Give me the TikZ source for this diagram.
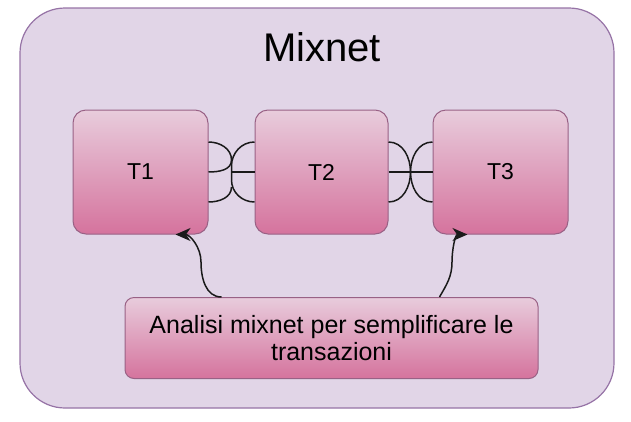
\documentclass[tikz,border=0pt]{standalone}
\usepackage{fontspec}
\setmainfont{Liberation Sans}
\usetikzlibrary{arrows.meta,calc}

\definecolor{frameFill}{HTML}{E1D5E7}
\definecolor{frameLine}{HTML}{9673A6}
\definecolor{boxTop}{HTML}{E8CCDC}
\definecolor{boxBottom}{HTML}{D5739D}
\definecolor{boxLine}{HTML}{996185}
\definecolor{wire}{HTML}{1A1A1A}

\tikzset{
  frame/.style={draw=frameLine, fill=frameFill, line width=1.2pt, rounded corners=45pt},
  txbox/.style={draw=boxLine, top color=boxTop, bottom color=boxBottom, line width=1pt,
    rounded corners=13pt, minimum width=135pt, minimum height=124pt, inner sep=0pt,
    font=\fontsize{23}{26}\selectfont},
  notebox/.style={draw=boxLine, top color=boxTop, bottom color=boxBottom, line width=1pt,
    rounded corners=9pt, minimum width=413pt, minimum height=81pt, inner sep=0pt,
    align=center, font=\fontsize{25}{27.5}\selectfont},
  link/.style={draw=wire, line width=1.5pt},
  pointer/.style={draw=wire, line width=1.5pt, -{Stealth[length=15pt,width=13pt,inset=4.5pt]}},
}

\begin{document}
\begin{tikzpicture}[x=1pt,y=-1pt]
\useasboundingbox (0,0) rectangle (631,421);

% outer container
\path[frame] (20,8) rectangle (614,408);
\node[font=\fontsize{40}{44}\selectfont] (title) at (322,47) {Mixnet};

% transaction boxes
\node[txbox] (T1) at (140.5,172) {T1};
\node[txbox, minimum width=133pt] (T2) at (321.5,172) {T2};
\node[txbox] (T3) at (500.5,172) {T3};

% analysis box
\node[notebox] (note) at (331.5,338) {Analisi mixnet per semplificare le\\transazioni};

% crossing links between T1 and T2
\coordinate (m1) at ($(T1.east)!0.5!(T2.west)$);
\draw[link] ([yshift=30pt]T1.east) to[out=0,in=90] ([yshift=12pt]m1) to[out=-90,in=0] (T1.east);
\draw[link] ([yshift=30pt]T2.west) to[out=180,in=90] ([yshift=6pt]m1) -- ([yshift=-8pt]m1)
  to[out=-90,in=180] ([yshift=-30pt]T2.west);
\draw[link] (T2.west) -- (m1);
\draw[link] ([yshift=-30pt]T1.east) to[out=0,in=-90] ([yshift=-15pt]m1);

% crossing links between T2 and T3
\coordinate (m2) at ($(T2.east)!0.5!(T3.west)$);
\draw[link] ([yshift=30pt]T2.east) to[out=0,in=90] (m2) to[out=-90,in=0] ([yshift=-30pt]T2.east);
\draw[link] ([yshift=30pt]T3.west) to[out=180,in=90] (m2) to[out=-90,in=180] ([yshift=-30pt]T3.west);
\draw[link] (T2.east) -- (T3.west);

% pointers from the analysis box
\coordinate (v1) at (201,262);
\coordinate (v2) at (452,262);
\draw[pointer] ([xshift=97pt]note.north west) to[out=180,in=-90] (v1)
  to[out=90,in=0] ([xshift=35pt]T1.south);
\draw[pointer] ([xshift=315pt]note.north west) to[out=60,in=-90] (v2)
  to[out=90,in=180] ([xshift=-33pt]T3.south);
\end{tikzpicture}
\end{document}
